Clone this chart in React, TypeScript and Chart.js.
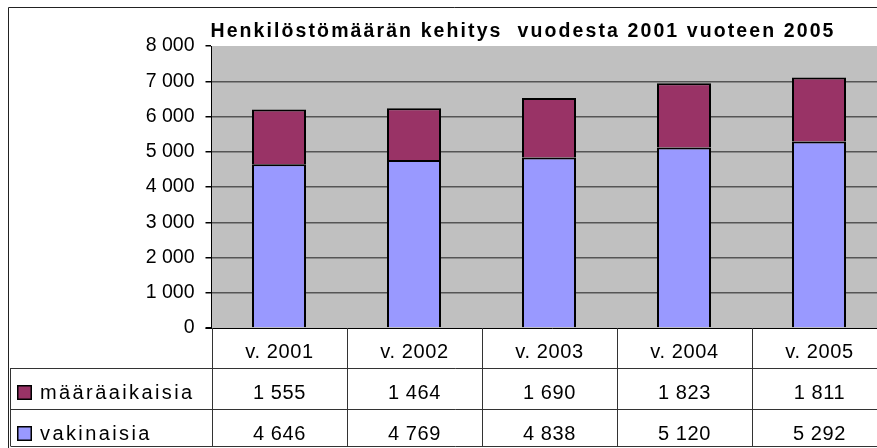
import React, { useEffect, useRef } from "react";
import { Chart, registerables } from "chart.js";

Chart.register(...registerables);

const titleText = "Henkilöstömäärän kehitys  vuodesta 2001 vuoteen 2005";
const categories = ["v. 2001", "v. 2002", "v. 2003", "v. 2004", "v. 2005"];
const seriesNames = ["määräaikaisia", "vakinaisia"];
const maaraaikaisia = [1555, 1464, 1690, 1823, 1811];
const vakinaisia = [4646, 4769, 4838, 5120, 5292];
const yMax = 8000;
const yStep = 1000;

const FONT = '"Liberation Sans", Arial, sans-serif';
const fmt = (n: number) => String(n).replace(/\B(?=(\d{3})+(?!\d))/g, " ");

const colors = { maar: "#993366", vak: "#9999FF", plot: "#C0C0C0" };

export default function App() {
  const ref = useRef<HTMLCanvasElement | null>(null);

  useEffect(() => {
    if (!ref.current) return;
    const tablePlugin = {
      id: "tablePlugin",
      beforeDraw(chart: any) {
        const { ctx, chartArea: a } = chart;
        ctx.save();
        ctx.fillStyle = "#fff";
        ctx.fillRect(0, 0, chart.width, chart.height);
        ctx.fillStyle = colors.plot;
        ctx.fillRect(a.left, a.top, a.right - a.left, a.bottom - a.top);
        ctx.restore();
      },
      afterDraw(chart: any) {
        const { ctx, chartArea: a } = chart;
        const xs = chart.scales.x;
        const n = categories.length;
        const cw = (a.right - a.left) / n;
        const W = chart.width;
        const H = chart.height;
        ctx.save();
        // title
        ctx.fillStyle = "#000";
        ctx.font = `bold 19.5px ${FONT}`;
        (ctx as any).letterSpacing = "2.1px";
        ctx.textAlign = "center";
        ctx.textBaseline = "alphabetic";
        ctx.fillText(titleText, 523, 36.5);
        (ctx as any).letterSpacing = "0px";
        // outer frame
        ctx.strokeStyle = "#222";
        ctx.lineWidth = 1;
        ctx.beginPath();
        ctx.moveTo(8.5, H);
        ctx.lineTo(8.5, 7.5);
        ctx.lineTo(W, 7.5);
        ctx.stroke();
        // x axis line
        ctx.strokeStyle = "#000";
        ctx.beginPath();
        ctx.moveTo(a.left - 6, Math.round(a.bottom) + 0.5);
        ctx.lineTo(W, Math.round(a.bottom) + 0.5);
        ctx.stroke();
        // table grid
        const rowTop = Math.round(a.bottom);
        const rows = [rowTop, rowTop + 40, rowTop + 81, rowTop + 118];
        ctx.strokeStyle = "#333";
        ctx.beginPath();
        ctx.moveTo(Math.round(a.left) + 0.5, rows[0]);
        ctx.lineTo(Math.round(a.left) + 0.5, rows[3]);
        for (let i = 1; i <= n; i++) {
          const x = Math.round(a.left + i * cw) + 0.5;
          ctx.moveTo(x, rows[0]);
          ctx.lineTo(x, rows[3]);
        }
        for (let r = 1; r <= 3; r++) {
          ctx.moveTo(10.5, rows[r] + 0.5);
          ctx.lineTo(W, rows[r] + 0.5);
        }
        ctx.moveTo(10.5, rows[1]);
        ctx.lineTo(10.5, rows[3]);
        ctx.stroke();
        // table texts
        const base = [rows[0] + 29.5, rows[1] + 31, rows[2] + 31];
        ctx.font = `20px ${FONT}`;
        (ctx as any).letterSpacing = "0.6px";
        ctx.fillStyle = "#000";
        ctx.textAlign = "center";
        ctx.textBaseline = "alphabetic";
        categories.forEach((c, i) => {
          const x = xs.getPixelForValue(i) + 0.5;
          ctx.fillText(c, x, base[0]);
          ctx.fillText(fmt(maaraaikaisia[i]), x, base[1]);
          ctx.fillText(fmt(vakinaisia[i]), x, base[2]);
        });
        // legend rows
        const keyCols = [colors.maar, colors.vak];
        (ctx as any).letterSpacing = "2.4px";
        seriesNames.forEach((s, r) => {
          const y = base[r + 1];
          ctx.fillStyle = keyCols[r];
          ctx.fillRect(18, y - 13, 13, 13);
          ctx.strokeStyle = "#000";
          ctx.lineWidth = 1.5;
          ctx.strokeRect(17.75, y - 13.25, 13.5, 13.5);
          ctx.fillStyle = "#000";
          ctx.textAlign = "left";
          ctx.fillText(s, 40, y);
        });
        ctx.restore();
      },
    };

    const chart = new Chart(ref.current, {
      type: "bar",
      data: {
        labels: categories,
        datasets: [
          {
            label: seriesNames[1],
            data: vakinaisia,
            backgroundColor: colors.vak,
            borderColor: "#000",
            borderWidth: 2,
          },
          {
            label: seriesNames[0],
            data: maaraaikaisia,
            backgroundColor: colors.maar,
            borderColor: "#000",
            borderWidth: 2,
          },
        ],
      },
      options: {
        responsive: false,
        animation: false,
        layout: { padding: { left: 0, top: 46, right: 900 - 886.5, bottom: 448 - 328 } },
        plugins: { legend: { display: false }, title: { display: false }, tooltip: { enabled: false } },
        datasets: { bar: { categoryPercentage: 1, barPercentage: 0.4 } },
        scales: {
          x: { stacked: true, display: false },
          y: {
            stacked: true,
            min: 0,
            max: yMax,
            afterFit: (s: any) => {
              s.width = 211.5;
            },
            ticks: {
              stepSize: yStep,
              color: "#000",
              padding: 11,
              font: { family: FONT, size: 19.5 },
              callback: (v: any) => fmt(Number(v)),
            },
            grid: {
              drawTicks: true,
              tickLength: 6,
              tickColor: "#000",
              lineWidth: 1.5,
              color: (c: any) => (c.tick && (c.tick.value === yMax || c.tick.value === 0) ? "rgba(0,0,0,0)" : "#555"),
            },
            border: { display: true, color: "#000", width: 1 },
          },
        },
      },
      plugins: [tablePlugin],
    } as any);
    return () => chart.destroy();
  }, []);

  return (
    <div style={{ position: "fixed", left: 0, top: 0, width: 877, height: 448, overflow: "hidden", background: "#fff" }}>
      <canvas ref={ref} width={900} height={448} style={{ display: "block" }} />
    </div>
  );
}
